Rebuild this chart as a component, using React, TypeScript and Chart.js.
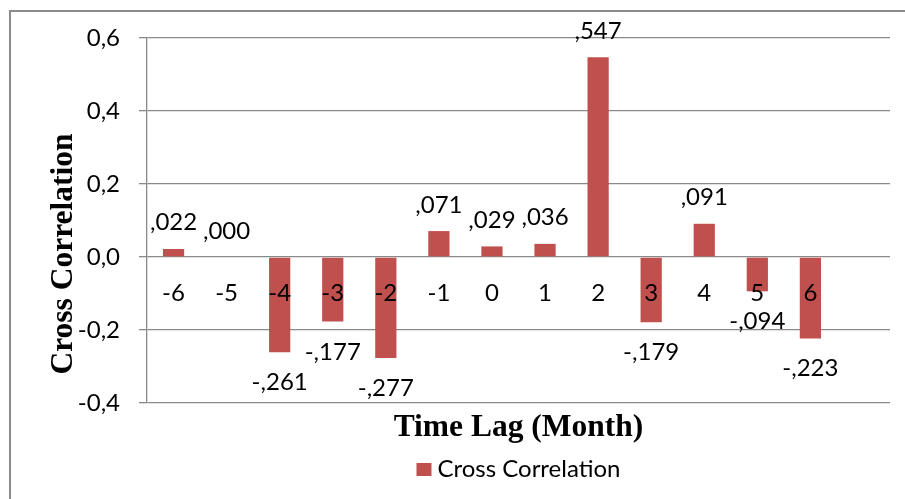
import React, { useEffect, useRef } from "react";
import { Chart, registerables } from "chart.js";

Chart.register(...registerables);

// ---- data ----
const categories = ["-6", "-5", "-4", "-3", "-2", "-1", "0", "1", "2", "3", "4", "5", "6", ""];
const correlations: (number | null)[] = [0.022, 0.0, -0.261, -0.177, -0.277, 0.071, 0.029, 0.036, 0.547, -0.179, 0.091, -0.094, -0.223, null];
const seriesName = "Cross Correlation";
const yTickValues = [-0.4, -0.2, 0, 0.2, 0.4, 0.6];
const xTitle = "Time Lag (Month)";
const yTitle = "Cross Correlation";

// ---- style ----
const BAR = "#C0504D";
const GRID = "#8a8a8a";
const SANS = "Lato, 'Open Sans', sans-serif";
const SERIF = "'Liberation Serif', 'DejaVu Serif', serif";
const LABEL_SIZE = 24;
const TITLE_SIZE = 31.5;

function fmtTick(v: number): string {
  if (Math.abs(v) < 1e-9) return "0,0";
  return v.toFixed(1).replace(".", ",");
}
function fmtLabel(v: number): string {
  const s = Math.abs(v).toFixed(3).slice(1).replace(".", ",");
  return (v < 0 ? "-" : "") + s;
}

const overlay = {
  id: "overlay",
  afterDatasetsDraw(chart: any) {
    const ctx: CanvasRenderingContext2D = chart.ctx;
    const meta = chart.getDatasetMeta(0);
    const ys = chart.scales.y;
    const zero = ys.getPixelForValue(0);
    const area = chart.chartArea;
    ctx.save();
    ctx.fillStyle = "#000";
    ctx.font = `${LABEL_SIZE}px ${SANS}`;
    ctx.textAlign = "center";
    ctx.textBaseline = "alphabetic";
    meta.data.forEach((el: any, i: number) => {
      const v = correlations[i];
      if (v === null || v === undefined) return;
      ctx.fillText(categories[i], el.x, zero + 43.5);
      const yy = v >= 0 ? el.y - 18.5 : el.y + 38;
      ctx.fillText(fmtLabel(v), el.x, yy);
    });
    // x title
    const cx = (area.left + area.right) / 2;
    ctx.font = `bold ${TITLE_SIZE}px ${SERIF}`;
    ctx.fillText(xTitle, cx, 436);
    // y title
    ctx.save();
    ctx.translate(72, 254);
    ctx.rotate(-Math.PI / 2);
    ctx.fillText(yTitle, 0, 0);
    ctx.restore();
    // legend
    ctx.font = `${LABEL_SIZE}px ${SANS}`;
    const tw = ctx.measureText(seriesName).width;
    const box = 14;
    const gap = 7;
    const total = box + gap + tw;
    const lx = cx - total / 2;
    ctx.fillStyle = BAR;
    ctx.fillRect(lx, 463, box + 1, box - 1);
    ctx.fillStyle = "#000";
    ctx.textAlign = "left";
    ctx.fillText(seriesName, lx + box + gap, 477);
    ctx.restore();
  },
};

export default function App() {
  const ref = useRef<HTMLCanvasElement | null>(null);
  useEffect(() => {
    document.body.style.margin = "0";
    document.body.style.overflow = "hidden";
    const canvas = ref.current!;
    const chart = new Chart(canvas, {
      type: "bar",
      data: {
        labels: categories,
        datasets: [
          {
            label: seriesName,
            data: correlations as any,
            backgroundColor: BAR,
            borderWidth: 0,
            barPercentage: 0.4,
            categoryPercentage: 1,
          },
        ],
      },
      options: {
        responsive: false,
        animation: false,
        devicePixelRatio: 1,
        layout: { padding: { top: 38, right: 15, left: 0, bottom: 0 } },
        plugins: { legend: { display: false }, tooltip: { enabled: false } },
        scales: {
          x: {
            ticks: { display: false },
            grid: { display: false },
            border: { display: false },
            afterFit: (s: any) => {
              s.height = 96;
            },
          },
          y: {
            min: -0.4,
            max: 0.6,
            afterBuildTicks: (s: any) => {
              s.ticks = yTickValues.map((v) => ({ value: v }));
            },
            ticks: {
              padding: 19,
              color: "#000",
              font: { family: SANS, size: LABEL_SIZE },
              callback: (v: any) => fmtTick(Number(v)),
            },
            grid: { color: GRID, lineWidth: 1.3, tickLength: 8, drawTicks: true },
            border: { display: true, color: GRID, width: 1.3 },
            afterFit: (s: any) => {
              s.width = 147;
            },
          },
        },
      },
      plugins: [overlay],
    });
    return () => chart.destroy();
  }, []);
  return (
    <div style={{ position: "relative", width: 905, height: 499, overflow: "hidden", background: "#fff" }}>
      <canvas ref={ref} width={905} height={499} style={{ position: "absolute", left: 0, top: 0 }} />
      <div
        style={{
          position: "absolute",
          left: 9,
          top: 10,
          width: 2000,
          height: 2000,
          border: `2px solid ${GRID}`,
          pointerEvents: "none",
        }}
      />
    </div>
  );
}
